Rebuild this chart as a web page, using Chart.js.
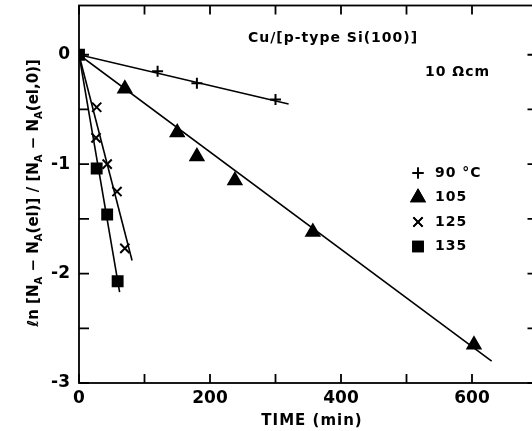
<!DOCTYPE html>
<html>
<head>
<meta charset="utf-8">
<script src="https://cdn.jsdelivr.net/npm/chart.js@4.4.1/dist/chart.umd.min.js"></script>
<style>
  html, body { margin: 0; padding: 0; background: #fff; overflow: hidden; }
  canvas { display: block; margin-top: -4px; }
</style>
</head>
<body>
<canvas id="chart" width="547" height="435"></canvas>
<script>
// series labels (legend) and point styles
const temps = ['90 °C', '105', '125', '135'];
const styles = ['cross', 'triangle', 'crossRot', 'rect'];
const radii = [5.5, 7.5, 6.5, 7];

// measured points: time (min) and ln ratio
const time90 = [120, 180, 300];
const ln90 = [-0.15, -0.26, -0.41];
const time105 = [70, 150, 180, 238, 357, 603];
const ln105 = [-0.31, -0.71, -0.93, -1.15, -1.62, -2.65];
const time125 = [27, 26, 43, 58, 70];
const ln125 = [-0.48, -0.76, -1.0, -1.25, -1.77];
const time135 = [0, 27, 43, 59];
const ln135 = [0, -1.04, -1.46, -2.07];

// straight fit lines start at the origin, end here
const fitEndTime = [320, 630, 81, 62];
const fitEndLn = [-0.45, -2.8, -1.88, -2.17];

// axes
const xLabels = [0, 200, 400, 600];
const xMarks = [0, 100, 200, 300, 400, 500, 600, 700];
const yLabels = [-3, -2, -1, 0];
const yMarks = [-3, -2.5, -2, -1.5, -1, -0.5, 0];

const FONT = '"DejaVu Sans", sans-serif';
const DY = 4; // canvas is shifted up by this much

const pts = (xs, ys) => xs.map((v, i) => ({ x: v, y: ys[i] }));
const allTimes = [time90, time105, time125, time135];
const allLn = [ln90, ln105, ln125, ln135];

const datasets = [];
allTimes.forEach((t, i) => {
  datasets.push({
    data: pts(t, allLn[i]),
    showLine: false,
    pointStyle: styles[i],
    pointRadius: radii[i],
    pointBackgroundColor: '#000',
    pointBorderColor: '#000',
    pointBorderWidth: 2
  });
  datasets.push({
    data: [{ x: 0, y: 0 }, { x: fitEndTime[i], y: fitEndLn[i] }],
    showLine: true,
    borderColor: '#000',
    borderWidth: 1.6,
    pointRadius: 0
  });
});

const decor = {
  id: 'decor',
  afterDatasetsDraw(chart) {
    const { ctx, chartArea: a, scales: { x, y } } = chart;
    ctx.save();
    ctx.strokeStyle = '#000';
    ctx.lineWidth = 1.8;
    ctx.strokeRect(a.left, a.top, a.right - a.left, a.bottom - a.top);
    ctx.beginPath();
    xMarks.forEach(v => {
      const px = x.getPixelForValue(v);
      ctx.moveTo(px, a.bottom); ctx.lineTo(px, a.bottom - 9);
      ctx.moveTo(px, a.top); ctx.lineTo(px, a.top + 9);
    });
    yMarks.forEach(v => {
      const py = y.getPixelForValue(v);
      ctx.moveTo(a.left, py); ctx.lineTo(a.left + 10, py);
      ctx.moveTo(a.right, py); ctx.lineTo(a.right - 10, py);
    });
    ctx.stroke();

    ctx.translate(0, DY);
    ctx.fillStyle = '#000';
    ctx.textBaseline = 'middle';
    ctx.font = 'bold 14px ' + FONT;
    ctx.letterSpacing = '1px';
    ctx.textAlign = 'left';
    ctx.fillText('Cu/[p-type Si(100)]', 248, 38);
    ctx.fillText('10 \u03A9cm', 425, 72);

    // legend
    temps.forEach((lab, i) => {
      const ly = 173 + i * 24.5;
      Chart.helpers.drawPoint(ctx, {
        pointStyle: styles[i], radius: radii[i], rotation: 0, borderWidth: 2
      }, 418, ly);
      ctx.fill();
      ctx.stroke();
      ctx.fillText(lab, 435, ly);
    });

    // x title
    ctx.textAlign = 'center';
    ctx.font = 'bold 15px ' + FONT;
    ctx.fillText('TIME (min)', 312, 421);

    // y title with subscripts
    const parts = [['\u2113n [N', 0], ['A', 1], [' \u2212 N', 0], ['A', 1], ['(el)] / [N', 0],
                   ['A', 1], [' \u2212 N', 0], ['A', 1], ['(el,0)]', 0]];
    const big = 'bold 15px ' + FONT, small = 'bold 10px ' + FONT;
    ctx.letterSpacing = '0px';
    let total = 0;
    parts.forEach(p => { ctx.font = p[1] ? small : big; total += ctx.measureText(p[0]).width; });
    ctx.translate(34, 193);
    ctx.rotate(-Math.PI / 2);
    ctx.textAlign = 'left';
    let cx = -total / 2;
    parts.forEach(p => {
      ctx.font = p[1] ? small : big;
      ctx.fillText(p[0], cx, p[1] ? 5 : 0);
      cx += ctx.measureText(p[0]).width;
    });
    ctx.restore();
  }
};

new Chart(document.getElementById('chart'), {
  type: 'scatter',
  data: { datasets },
  options: {
    responsive: false,
    animation: false,
    layout: { padding: { left: 0, right: 2.5, top: 6, bottom: 0 } },
    plugins: { legend: { display: false }, tooltip: { enabled: false } },
    scales: {
      x: {
        type: 'linear', min: 0, max: 700,
        grid: { display: false, drawTicks: false },
        border: { display: false },
        afterFit: s => { s.height = 48; s.paddingLeft = 0; s.paddingRight = 0; },
        afterBuildTicks: s => { s.ticks = xLabels.map(v => ({ value: v })); },
        ticks: { color: '#000', padding: 5, font: { family: FONT, size: 17, weight: 'bold' } }
      },
      y: {
        type: 'linear', min: -3, max: 0.45,
        grid: { display: false, drawTicks: false },
        border: { display: false },
        afterFit: s => { s.width = 79; s.paddingTop = 0; s.paddingBottom = 0; },
        afterBuildTicks: s => { s.ticks = yLabels.map(v => ({ value: v })); },
        ticks: { color: '#000', padding: 9, font: { family: FONT, size: 17, weight: 'bold' } }
      }
    }
  },
  plugins: [decor]
});
</script>
</body>
</html>
